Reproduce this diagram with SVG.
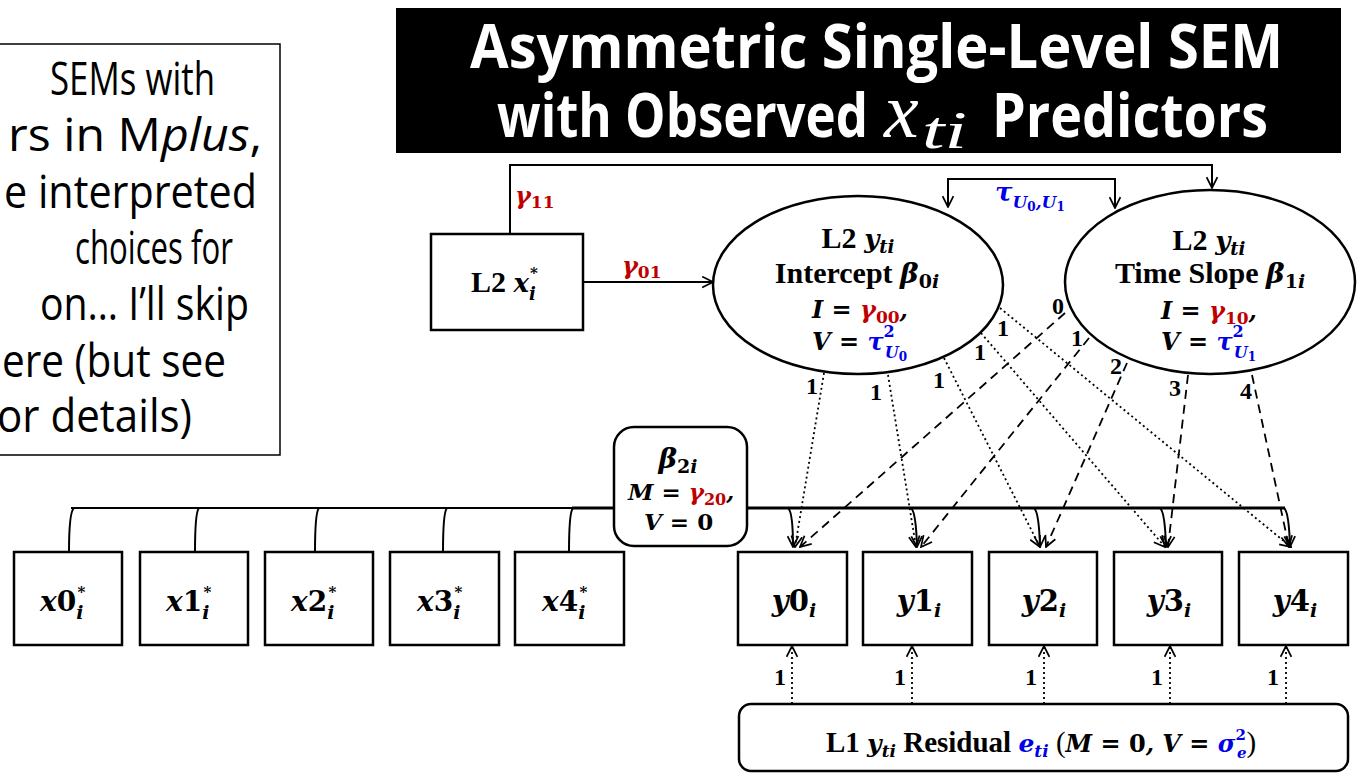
<svg xmlns="http://www.w3.org/2000/svg" width="1357" height="773" viewBox="0 0 1357 773">
<style>
.box{fill:#fff;stroke:#000;stroke-width:2.5}
.ln{fill:none;stroke:#000;stroke-width:2}
.dot{fill:none;stroke:#000;stroke-width:1.8;stroke-dasharray:2 3}
.dash{fill:none;stroke:#000;stroke-width:1.8;stroke-dasharray:9 6}
.tx{font-family:"Liberation Serif",serif;font-weight:bold;fill:#000}
.mi{font-family:"DejaVu Serif",serif;font-weight:bold;font-style:italic}
.mu{font-family:"DejaVu Serif",serif;font-weight:bold;font-style:normal}
.red{fill:#C00000}
.blue{fill:#0000E6}
.ui{font-family:"Open Sans","Noto Sans",sans-serif;fill:#000;font-size:46px}
.lab{font-family:"Liberation Serif",serif;font-weight:bold;font-size:24px;fill:#000}
</style>
<defs>
<marker id="ah" viewBox="0 0 12 12" refX="11" refY="6" markerWidth="13" markerHeight="13" markerUnits="userSpaceOnUse" orient="auto-start-reverse"><path d="M1,1 L11,6 L1,11" fill="none" stroke="#000" stroke-width="1.6"/></marker>
</defs>
<rect width="1357" height="773" fill="#fff"/>

<g id="note">
<rect x="-10" y="44" width="290" height="411" fill="#fff" stroke="#000" stroke-width="1.5"/>
<text class="ui" x="50" y="95" textLength="165" lengthAdjust="spacingAndGlyphs">SEMs with</text>
<text class="ui" x="8" y="151" textLength="254" lengthAdjust="spacingAndGlyphs">rs in M<tspan font-style="italic">plus</tspan>,</text>
<text class="ui" x="4" y="208" textLength="253" lengthAdjust="spacingAndGlyphs">e interpreted</text>
<text class="ui" x="75" y="264" textLength="158" lengthAdjust="spacingAndGlyphs">choices for</text>
<text class="ui" x="40" y="320" textLength="209" lengthAdjust="spacingAndGlyphs">on… I’ll skip</text>
<text class="ui" x="2" y="377" textLength="224" lengthAdjust="spacingAndGlyphs">ere (but see</text>
<text class="ui" x="-3" y="432" textLength="195" lengthAdjust="spacingAndGlyphs">or details)</text>
</g>

<g id="title">
<rect x="396" y="8" width="945" height="145" fill="#000"/>
<text font-family="Open Sans,sans-serif" font-weight="bold" font-size="60" fill="#fff" x="470" y="68" textLength="813" lengthAdjust="spacingAndGlyphs">Asymmetric Single-Level SEM</text>
<text font-family="Open Sans,sans-serif" font-weight="bold" font-size="60" fill="#fff" x="497" y="137" textLength="371" lengthAdjust="spacingAndGlyphs">with Observed</text>
<text font-family="Liberation Serif,serif" font-style="italic" font-size="78" fill="#fff" x="884" y="137">x</text>
<text font-family="Liberation Serif,serif" font-style="italic" font-size="52" fill="#fff" x="922" y="148" textLength="45" lengthAdjust="spacingAndGlyphs">ti</text>
<text font-family="Open Sans,sans-serif" font-weight="bold" font-size="60" fill="#fff" x="992" y="137" textLength="276" lengthAdjust="spacingAndGlyphs">Predictors</text>
</g>

<g id="connectors">
<path class="ln" d="M510,234 V165 H1212 V188" marker-end="url(#ah)"/>
<path class="ln" d="M583,282 H713" marker-end="url(#ah)"/>
<path class="ln" d="M948,207 V179 H1115 V208" marker-start="url(#ah)" marker-end="url(#ah)"/>
<path class="dot" d="M824,373 L795,547" marker-end="url(#ah)"/>
<path class="dot" d="M888,375 L916,547" marker-end="url(#ah)"/>
<path class="dot" d="M944,358 L1040,547" marker-end="url(#ah)"/>
<path class="dot" d="M981,333 L1165,547" marker-end="url(#ah)"/>
<path class="dot" d="M1000,308 L1291,547" marker-end="url(#ah)"/>
<path class="dash" d="M1065,313 L800,547" marker-end="url(#ah)"/>
<path class="dash" d="M1089,338 L921,547" marker-end="url(#ah)"/>
<path class="dash" d="M1127,363 L1046,547" marker-end="url(#ah)"/>
<path class="dash" d="M1188,375 L1168,547" marker-end="url(#ah)"/>
<path class="dash" d="M1252,375 L1289,547" marker-end="url(#ah)"/>
<path d="M71,508 H572" fill="none" stroke="#000" stroke-width="2"/>
<path d="M572,508 H1285" fill="none" stroke="#000" stroke-width="3.2"/>
<path class="ln" d="M74,508 Q69,512 69,552"/>
<path class="ln" d="M199,508 Q195,512 195,552"/>
<path class="ln" d="M319,508 Q315,512 315,552"/>
<path class="ln" d="M447,508 Q443,512 443,552"/>
<path class="ln" d="M573,508 Q569,512 569,552"/>
<path class="ln" d="M788,508 Q793,512 793,547" marker-end="url(#ah)"/>
<path class="ln" d="M911,508 Q916,512 917,547" marker-end="url(#ah)"/>
<path class="ln" d="M1034,508 Q1039,512 1040,547" marker-end="url(#ah)"/>
<path class="ln" d="M1160,508 Q1165,512 1166,547" marker-end="url(#ah)"/>
<path class="ln" d="M1284,508 Q1289,512 1290,547" marker-end="url(#ah)"/>
<path class="dot" d="M792,704 V646" marker-end="url(#ah)"/>
<path class="dot" d="M912,704 V646" marker-end="url(#ah)"/>
<path class="dot" d="M1044,704 V646" marker-end="url(#ah)"/>
<path class="dot" d="M1170,704 V646" marker-end="url(#ah)"/>
<path class="dot" d="M1286,704 V646" marker-end="url(#ah)"/>
</g>

<g id="labels">
<text class="mi red" font-size="24" x="515" y="204">γ<tspan class="mu" font-size="17" dy="4">11</tspan></text>
<text class="mi red" font-size="24" x="622" y="274">γ<tspan class="mu" font-size="17" dy="4">01</tspan></text>
<text class="mi blue" font-size="26" x="995" y="201">τ<tspan font-size="17" dy="7">U</tspan><tspan class="mu" font-size="12" dy="3">0</tspan><tspan font-size="17" dy="-3">,U</tspan><tspan class="mu" font-size="12" dy="3">1</tspan></text>
<text class="lab" x="806" y="394">1</text>
<text class="lab" x="870" y="400">1</text>
<text class="lab" x="933" y="388">1</text>
<text class="lab" x="974" y="360">1</text>
<text class="lab" x="997" y="336">1</text>
<text class="lab" x="1052" y="314">0</text>
<text class="lab" x="1071" y="346">1</text>
<text class="lab" x="1110" y="374">2</text>
<text class="lab" x="1169" y="396">3</text>
<text class="lab" x="1240" y="399">4</text>
<text class="lab" x="774" y="685">1</text>
<text class="lab" x="894" y="685">1</text>
<text class="lab" x="1025" y="685">1</text>
<text class="lab" x="1151" y="685">1</text>
<text class="lab" x="1267" y="685">1</text>
</g>

<g id="L2x">
<rect class="box" x="431" y="234" width="152" height="96"/>
<text class="tx" font-size="30" x="471" y="292">L2 <tspan class="mi" font-size="26">x</tspan><tspan class="mi" font-size="18" dy="8">i</tspan><tspan class="mu" font-size="15" dx="-6" dy="-22">*</tspan></text>
</g>

<g id="intercept">
<ellipse class="box" cx="858" cy="285" rx="145" ry="89"/>
<text class="tx" font-size="30" x="858" y="248" text-anchor="middle">L2 <tspan class="mi" font-size="26">y</tspan><tspan class="mi" font-size="18" dy="5">ti</tspan></text>
<text class="tx" font-size="30" x="857" y="283" text-anchor="middle">Intercept <tspan class="mi" font-size="28">β</tspan><tspan class="mu" font-size="19" dy="5">0</tspan><tspan class="mi" font-size="19">i</tspan></text>
<text class="mi" font-size="24" x="812" y="318">I = <tspan class="red">γ</tspan><tspan class="mu red" font-size="17" dy="5">00</tspan><tspan dy="-5">,</tspan></text>
<text class="mi" font-size="24" x="812" y="350">V = <tspan class="blue">τ</tspan><tspan class="mu blue" font-size="16" dy="-13">2</tspan><tspan class="blue" font-size="16" dx="-10" dy="21">U</tspan><tspan class="mu blue" font-size="12" dy="3">0</tspan></text>
</g>

<g id="slope">
<ellipse class="box" cx="1210" cy="282" rx="145" ry="92"/>
<text class="tx" font-size="30" x="1209" y="250" text-anchor="middle">L2 <tspan class="mi" font-size="26">y</tspan><tspan class="mi" font-size="18" dy="5">ti</tspan></text>
<text class="tx" font-size="30" x="1210" y="283" text-anchor="middle">Time Slope <tspan class="mi" font-size="28">β</tspan><tspan class="mu" font-size="19" dy="5">1</tspan><tspan class="mi" font-size="19">i</tspan></text>
<text class="mi" font-size="24" x="1161" y="319">I = <tspan class="red">γ</tspan><tspan class="mu red" font-size="17" dy="5">10</tspan><tspan dy="-5">,</tspan></text>
<text class="mi" font-size="24" x="1161" y="350">V = <tspan class="blue">τ</tspan><tspan class="mu blue" font-size="16" dy="-13">2</tspan><tspan class="blue" font-size="16" dx="-10" dy="21">U</tspan><tspan class="mu blue" font-size="12" dy="3">1</tspan></text>
</g>

<g id="beta2">
<rect class="box" x="614" y="427" width="133" height="119" rx="20"/>
<text class="mi" font-size="28" x="678" y="468" text-anchor="middle">β<tspan class="mu" font-size="19" dy="5">2</tspan><tspan font-size="19">i</tspan></text>
<text class="mi" font-size="23" x="628" y="500">M = <tspan class="red">γ</tspan><tspan class="mu red" font-size="16" dy="5">20</tspan><tspan dy="-5">,</tspan></text>
<text class="mi" font-size="23" x="644" y="530">V = <tspan class="mu">0</tspan></text>
</g>

<g id="x0"><rect class="box" x="14" y="552" width="108" height="93"/><text class="mi" font-size="28" x="40" y="611">x<tspan class="mu">0</tspan><tspan font-size="19" dy="8">i</tspan><tspan class="mu" font-size="15" dx="-6" dy="-22">*</tspan></text></g>
<g id="x1"><rect class="box" x="140" y="552" width="108" height="93"/><text class="mi" font-size="28" x="166" y="611">x<tspan class="mu">1</tspan><tspan font-size="19" dy="8">i</tspan><tspan class="mu" font-size="15" dx="-6" dy="-22">*</tspan></text></g>
<g id="x2"><rect class="box" x="265" y="552" width="108" height="93"/><text class="mi" font-size="28" x="291" y="611">x<tspan class="mu">2</tspan><tspan font-size="19" dy="8">i</tspan><tspan class="mu" font-size="15" dx="-6" dy="-22">*</tspan></text></g>
<g id="x3"><rect class="box" x="390" y="552" width="109" height="93"/><text class="mi" font-size="28" x="417" y="611">x<tspan class="mu">3</tspan><tspan font-size="19" dy="8">i</tspan><tspan class="mu" font-size="15" dx="-6" dy="-22">*</tspan></text></g>
<g id="x4"><rect class="box" x="515" y="552" width="109" height="93"/><text class="mi" font-size="28" x="542" y="611">x<tspan class="mu">4</tspan><tspan font-size="19" dy="8">i</tspan><tspan class="mu" font-size="15" dx="-6" dy="-22">*</tspan></text></g>

<g id="y0"><rect class="box" x="738" y="552" width="109" height="93"/><text class="mi" font-size="29" x="794" y="611" text-anchor="middle">y<tspan class="mu">0</tspan><tspan font-size="19" dy="6">i</tspan></text></g>
<g id="y1"><rect class="box" x="863" y="552" width="109" height="93"/><text class="mi" font-size="29" x="919" y="611" text-anchor="middle">y<tspan class="mu">1</tspan><tspan font-size="19" dy="6">i</tspan></text></g>
<g id="y2"><rect class="box" x="989" y="552" width="108" height="93"/><text class="mi" font-size="29" x="1044" y="611" text-anchor="middle">y<tspan class="mu">2</tspan><tspan font-size="19" dy="6">i</tspan></text></g>
<g id="y3"><rect class="box" x="1114" y="552" width="108" height="93"/><text class="mi" font-size="29" x="1169" y="611" text-anchor="middle">y<tspan class="mu">3</tspan><tspan font-size="19" dy="6">i</tspan></text></g>
<g id="y4"><rect class="box" x="1239" y="552" width="109" height="93"/><text class="mi" font-size="29" x="1295" y="611" text-anchor="middle">y<tspan class="mu">4</tspan><tspan font-size="19" dy="6">i</tspan></text></g>

<g id="residual">
<rect class="box" x="739" y="704" width="609" height="67" rx="12"/>
<text class="tx" font-size="29" x="826" y="752">L1 <tspan class="mi" font-size="25">y</tspan><tspan class="mi" font-size="17" dy="5">ti</tspan><tspan dy="-5"> Residual </tspan><tspan class="mi blue" font-size="25">e</tspan><tspan class="mi blue" font-size="17" dy="5">ti</tspan><tspan dy="-5" font-weight="normal"> (</tspan><tspan class="mi" font-size="24">M = <tspan class="mu">0</tspan>, V = <tspan class="blue">σ</tspan><tspan class="mu blue" font-size="15" dy="-12">2</tspan><tspan class="blue" font-size="15" dx="-9" dy="18">e</tspan></tspan><tspan font-weight="normal" dy="-6">)</tspan></text>
</g>
</svg>
